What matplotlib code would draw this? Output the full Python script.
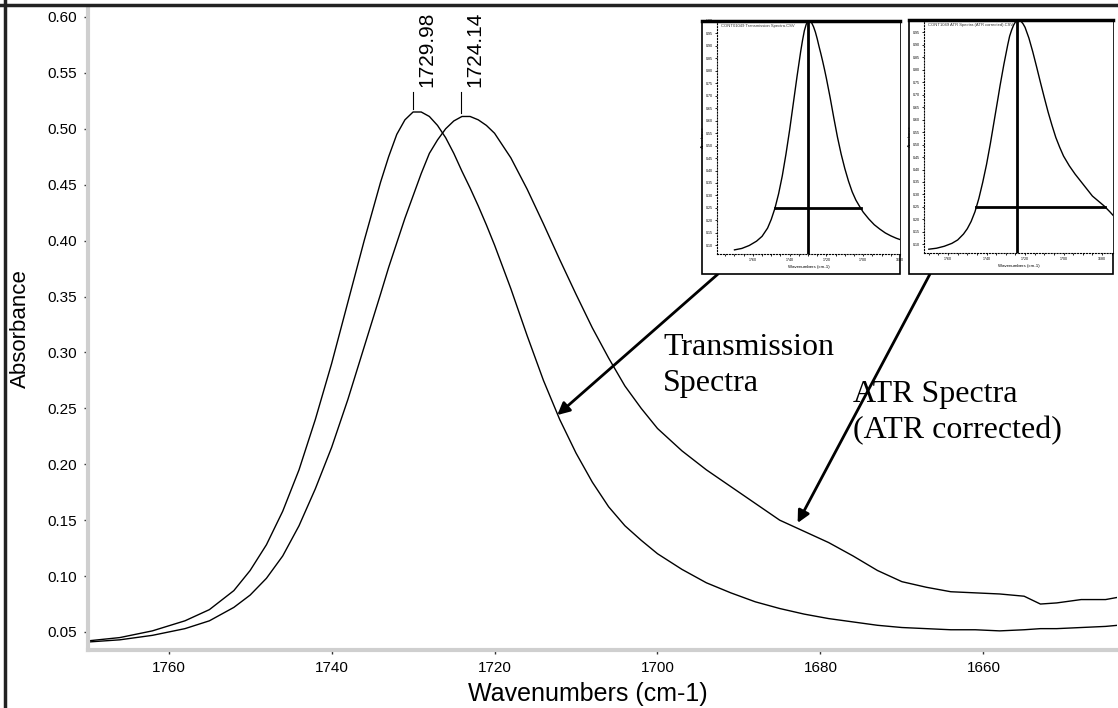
import matplotlib
matplotlib.use("Agg")
import matplotlib.pyplot as plt
from matplotlib.lines import Line2D
from matplotlib.patches import Rectangle
from matplotlib.ticker import MultipleLocator, FormatStrFormatter
import numpy as np

# wavenumbers (cm-1) where the two spectra were read
wavenumbers = [1770, 1766, 1762, 1758, 1755, 1752, 1750, 1748, 1746, 1744,
               1742, 1740, 1738, 1736, 1734, 1733, 1732, 1731, 1730, 1729,
               1728, 1727, 1726, 1725, 1724, 1723, 1722, 1721, 1720, 1718,
               1716, 1714, 1712, 1710, 1708, 1706, 1704, 1702, 1700, 1697,
               1694, 1691, 1688, 1685, 1682, 1679, 1676, 1673, 1670, 1667,
               1664, 1661, 1658, 1655, 1653, 1651, 1648, 1645, 1643.5]

transmission = [0.042, 0.045, 0.051, 0.060, 0.070, 0.087, 0.105, 0.128, 0.158, 0.195,
                0.240, 0.290, 0.345, 0.400, 0.452, 0.475, 0.495, 0.508, 0.515, 0.515,
                0.511, 0.503, 0.492, 0.478, 0.462, 0.447, 0.431, 0.414, 0.396, 0.357,
                0.315, 0.275, 0.240, 0.210, 0.184, 0.162, 0.145, 0.132, 0.120, 0.106,
                0.094, 0.085, 0.077, 0.071, 0.066, 0.062, 0.059, 0.056, 0.054, 0.053,
                0.052, 0.052, 0.051, 0.052, 0.053, 0.053, 0.054, 0.055, 0.056]

atr = [0.041, 0.043, 0.047, 0.053, 0.060, 0.072, 0.083, 0.098, 0.118, 0.145,
       0.178, 0.215, 0.258, 0.305, 0.352, 0.376, 0.398, 0.420, 0.440, 0.460,
       0.478, 0.490, 0.500, 0.507, 0.511, 0.511, 0.508, 0.503, 0.496, 0.474,
       0.446, 0.415, 0.383, 0.352, 0.322, 0.295, 0.270, 0.250, 0.232, 0.212,
       0.195, 0.180, 0.165, 0.150, 0.140, 0.130, 0.118, 0.105, 0.095, 0.090,
       0.086, 0.085, 0.084, 0.082, 0.075, 0.076, 0.079, 0.079, 0.081]

peak_positions = [1729.98, 1724.14]
peak_labels = ["1729.98", "1724.14"]
inset_titles = ["CONT01049 Transmission Spectra.CSV",
                "CONT1049 ATR Spectra (ATR corrected).CSV"]

W, H = 1118, 708
fig = plt.figure(figsize=(W / 100, H / 100), dpi=100)
plt.rcParams['font.family'] = ['Liberation Sans', 'DejaVu Sans']

def fx(px):
    return px / W

def fy(py):
    return 1 - py / H

ax = fig.add_axes([fx(88), fy(650), fx(1117) - fx(88), fy(8) - fy(650)])
ax.plot(wavenumbers, transmission, color='black', lw=1.0)
ax.plot(wavenumbers, atr, color='black', lw=1.0)
ax.set_xlim(1769.9, 1643.6)
ax.set_ylim(0.0339, 0.608)

for s in ['top', 'right']:
    ax.spines[s].set_visible(False)
for s in ['left', 'bottom']:
    ax.spines[s].set_color('#cfcfcf')
    ax.spines[s].set_linewidth(3)

ax.yaxis.set_major_locator(MultipleLocator(0.05))
ax.yaxis.set_minor_locator(MultipleLocator(0.01))
ax.xaxis.set_major_locator(MultipleLocator(20))
ax.xaxis.set_minor_locator(MultipleLocator(5))
ax.yaxis.set_major_formatter(FormatStrFormatter('%.2f'))
ax.xaxis.set_major_formatter(FormatStrFormatter('%d'))
ax.tick_params(which='major', direction='out', length=3, width=1, color='#333333',
               labelsize=11, pad=5)
ax.tick_params(which='minor', direction='in', length=1.5, width=1.5, color='#333333')

ax.set_xlabel("Wavenumbers (cm-1)", fontsize=18)
ax.xaxis.set_label_coords(0.486, -0.05)
ax.set_ylabel("Absorbance", fontsize=16)
ax.yaxis.set_label_coords(-0.055, 0.5)

# peak labels
spec = [transmission, atr]
for pos, lab, ys in zip(peak_positions, peak_labels, spec):
    top = max(ys)
    ax.plot([pos, pos], [top + 0.003, 0.533], color='black', lw=0.8)
    ax.annotate(lab, xy=(pos, 0.537), xytext=(3, 0), textcoords='offset points',
                rotation=90, ha='left', va='bottom', fontsize=15)

# insets: (box px, inner plot px, xlim)
insets = [
    ((702, 21, 900, 274), (717, 21, 900, 254), (1779.5, 1680)),
    ((909, 20, 1113, 274), (924, 20, 1113, 253), (1772.5, 1674.3)),
]
for (box, inner, xl), ys, pos, title in zip(insets, spec, peak_positions, inset_titles):
    x0, y0, x1, y1 = box
    rect = Rectangle((fx(x0), fy(y1)), fx(x1) - fx(x0), fy(y0) - fy(y1),
                     transform=fig.transFigure, facecolor='white', edgecolor='black',
                     lw=1.2, zorder=2)
    fig.add_artist(rect)
    fig.add_artist(Line2D([fx(x0), fx(x1)], [fy(y0), fy(y0)], transform=fig.transFigure,
                          color='black', lw=2.5, zorder=5))
    i0, j0, i1, j1 = inner
    iax = fig.add_axes([fx(i0), fy(j1), fx(i1) - fx(i0), fy(j0) - fy(j1)])
    iax.set_zorder(3)
    norm = np.array(ys) / max(ys)
    iax.plot(wavenumbers, norm, color='black', lw=1)
    iax.set_xlim(*xl)
    iax.set_ylim(0.065, 1.0)
    iax.axvline(pos, color='black', lw=2)
    w = np.array(wavenumbers)
    k = int(np.argmax(norm))
    left = np.interp(0.25, norm[:k + 1], w[:k + 1])
    right = np.interp(0.25, norm[k:][::-1], w[k:][::-1])
    iax.plot([left, right], [0.25, 0.25], color='black', lw=2)
    for s in ['top', 'right']:
        iax.spines[s].set_visible(False)
    for s in ['left', 'bottom']:
        iax.spines[s].set_linestyle(':')
        iax.spines[s].set_linewidth(0.8)
    iax.yaxis.set_major_locator(MultipleLocator(0.05))
    iax.xaxis.set_major_locator(MultipleLocator(20))
    iax.xaxis.set_minor_locator(MultipleLocator(5))
    iax.yaxis.set_major_formatter(FormatStrFormatter('%.2f'))
    iax.xaxis.set_major_formatter(FormatStrFormatter('%d'))
    iax.tick_params(which='both', length=1.2, width=0.6, labelsize=2.6, pad=1.5)
    iax.set_xlabel("Wavenumbers (cm-1)", fontsize=3.2, labelpad=2)
    iax.set_ylabel("Absorbance", fontsize=3, labelpad=1)
    iax.text(0.02, 0.985, title, transform=iax.transAxes, fontsize=3,
             ha='left', va='top', color='#333333')

# arrows from the insets to the curves
ax.annotate('', xy=(1712.3, 0.244), xycoords='data',
            xytext=(fx(718), fy(274)), textcoords='figure fraction',
            arrowprops=dict(arrowstyle='-|>', color='black', lw=2, mutation_scale=18,
                            shrinkA=0, shrinkB=0), zorder=6)
ax.annotate('', xy=(1682.8, 0.1475), xycoords='data',
            xytext=(fx(930), fy(274)), textcoords='figure fraction',
            arrowprops=dict(arrowstyle='-|>', color='black', lw=2, mutation_scale=18,
                            shrinkA=0, shrinkB=0), zorder=6)

fig.text(fx(663), fy(333), "Transmission\nSpectra", family='Liberation Serif',
         fontsize=23, ha='left', va='top', linespacing=1.3)
fig.text(fx(853), fy(380), "ATR Spectra\n(ATR corrected)", family='Liberation Serif',
         fontsize=23, ha='left', va='top', linespacing=1.3)

# outer frame
fig.add_artist(Line2D([fx(5), fx(5)], [0, 1], transform=fig.transFigure,
                      color='#222222', lw=2.5))
fig.add_artist(Line2D([0, 1], [fy(5), fy(5)], transform=fig.transFigure,
                      color='#222222', lw=2.5))

fig.savefig("out.png", dpi=100)
